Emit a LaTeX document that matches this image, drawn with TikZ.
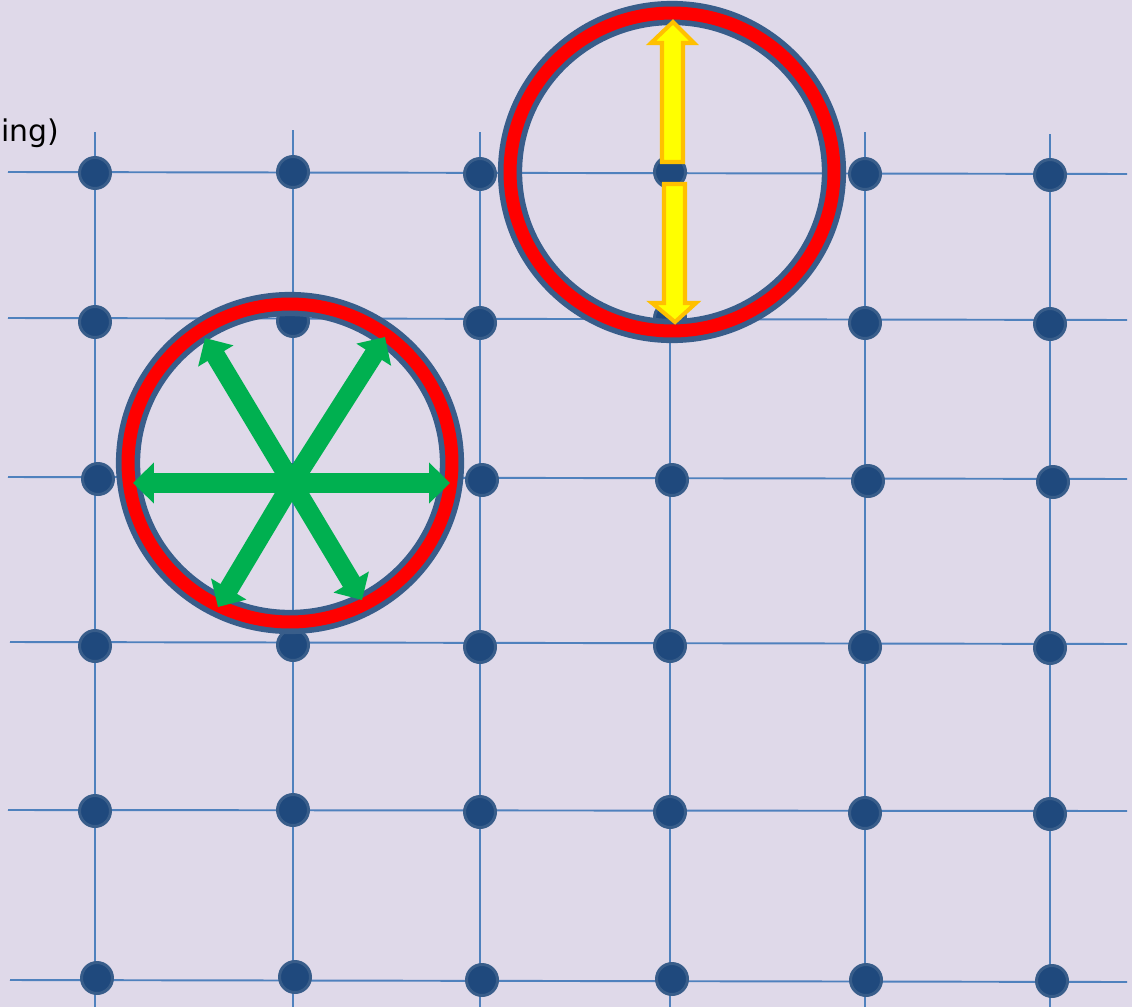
\documentclass[tikz,border=0pt]{standalone}
\usepackage{fontspec}
\setmainfont{DejaVu Sans}
\usetikzlibrary{arrows.meta}
\definecolor{paper}{HTML}{DFD9E9}
\definecolor{gridblue}{HTML}{4F81BD}
\definecolor{dotfill}{HTML}{1F497D}
\definecolor{dotedge}{HTML}{385D8A}
\definecolor{ringred}{HTML}{FF0000}
\definecolor{greenarrow}{HTML}{00B050}
\definecolor{yellowfill}{HTML}{FFFF00}
\definecolor{yellowedge}{HTML}{FFC000}

\begin{document}
\begin{tikzpicture}[x=0.02cm, y=-0.02cm,
  gridline/.style={draw=gridblue, line width=1.1pt},
  site/.style={circle, fill=dotfill, draw=dotedge, line width=1.7pt,
               minimum size=0.62cm, inner sep=0pt},
  ringout/.style={draw=dotedge, line width=13.8pt},
  ringin/.style={draw=ringred, line width=7.4pt},
  burst/.style={draw=greenarrow, line width=11pt,
                -{Triangle[length=0.42cm, width=0.8cm]}},
  jump/.style={fill=yellowfill, draw=yellowedge, line width=2.3pt, line join=miter},
]
  \useasboundingbox (0,0) rectangle (1132,1007);
  \fill[paper] (0,0) rectangle (1132,1007);

  \node[font=\fontsize{17}{21}\selectfont, anchor=base west, inner sep=0pt] (title) at (1,141) {ing)};

  % grid lines
  \coordinate (h1l) at (8,172);   \coordinate (h1r) at (1127,174);
  \coordinate (h2l) at (8,318);   \coordinate (h2r) at (1127,320);
  \coordinate (h3l) at (8,477);   \coordinate (h3r) at (1127,479);
  \coordinate (h4l) at (10,642);  \coordinate (h4r) at (1127,644);
  \coordinate (h5l) at (8,810);   \coordinate (h5r) at (1127,811);
  \coordinate (h6l) at (10,980);  \coordinate (h6r) at (1127,982);
  \coordinate (v1t) at (95,132);   \coordinate (v1b) at (95,1007);
  \coordinate (v2t) at (293,130);  \coordinate (v2b) at (293,1007);
  \coordinate (v3t) at (480,132);  \coordinate (v3b) at (480,1007);
  \coordinate (v4t) at (670,318);  \coordinate (v4b) at (670,1007);
  \coordinate (v5t) at (865,132);  \coordinate (v5b) at (865,1007);
  \coordinate (v6t) at (1050,134); \coordinate (v6b) at (1050,1007);

  \draw[gridline] (h1l) -- (h1r);
  \draw[gridline] (h2l) -- (h2r);
  \draw[gridline] (h3l) -- (h3r);
  \draw[gridline] (h4l) -- (h4r);
  \draw[gridline] (h5l) -- (h5r);
  \draw[gridline] (h6l) -- (h6r);
  \draw[gridline] (v1t) -- (v1b);
  \draw[gridline] (v2t) -- (v2b);
  \draw[gridline] (v3t) -- (v3b);
  \draw[gridline] (v4t) -- (v4b);
  \draw[gridline] (v5t) -- (v5b);
  \draw[gridline] (v6t) -- (v6b);

  % lattice sites
  \node[site] (s11) at (95,173) {};  \node[site] (s12) at (293,172) {};
  \node[site] (s13) at (480,174) {}; \node[site] (s14) at (670,172) {};
  \node[site] (s15) at (865,174) {}; \node[site] (s16) at (1050,175) {};

  \node[site] (s21) at (95,322) {};  \node[site] (s22) at (293,321) {};
  \node[site] (s23) at (480,323) {}; \node[site] (s24) at (670,318) {};
  \node[site] (s25) at (865,323) {}; \node[site] (s26) at (1050,324) {};

  \node[site] (s31) at (98,479) {};  \node[site] (s32) at (293,480) {};
  \node[site] (s33) at (482,480) {}; \node[site] (s34) at (672,480) {};
  \node[site] (s35) at (868,481) {}; \node[site] (s36) at (1053,482) {};

  \node[site] (s41) at (95,646) {};  \node[site] (s42) at (293,645) {};
  \node[site] (s43) at (480,647) {}; \node[site] (s44) at (670,646) {};
  \node[site] (s45) at (865,647) {}; \node[site] (s46) at (1050,648) {};

  \node[site] (s51) at (95,811) {};  \node[site] (s52) at (293,810) {};
  \node[site] (s53) at (480,812) {}; \node[site] (s54) at (670,812) {};
  \node[site] (s55) at (865,813) {}; \node[site] (s56) at (1050,814) {};

  \node[site] (s61) at (97,978) {};  \node[site] (s62) at (295,977) {};
  \node[site] (s63) at (482,980) {}; \node[site] (s64) at (672,979) {};
  \node[site] (s65) at (866,980) {}; \node[site] (s66) at (1052,981) {};

  % rings
  \coordinate (free) at (290,463);
  \coordinate (hop) at (672,172);
  \draw[ringout] (free) ellipse [x radius=3.24cm, y radius=3.18cm];
  \draw[ringin]  (free) ellipse [x radius=3.24cm, y radius=3.18cm];
  \draw[ringout] (hop) ellipse [x radius=3.24cm, y radius=3.18cm];
  \draw[ringin]  (hop) ellipse [x radius=3.24cm, y radius=3.18cm];

  % free diffusion
  \coordinate (mid) at (292,483);
  \coordinate (tipl) at (133,483);
  \coordinate (tipr) at (450,483);
  \coordinate (tipul) at (205,338);
  \coordinate (tipur) at (385,337);
  \coordinate (tipll) at (218,607);
  \coordinate (tiplr) at (362,600);
  \draw[burst] (mid) -- (tipl);
  \draw[burst] (mid) -- (tipr);
  \draw[burst] (mid) -- (tipul);
  \draw[burst] (mid) -- (tipur);
  \draw[burst] (mid) -- (tipll);
  \draw[burst] (mid) -- (tiplr);

  % hopping
  \draw[jump] (662,162) -- (662,43) -- (651,43) -- (673,22) -- (694,43)
    -- (683,43) -- (683,162) -- cycle;
  \draw[jump] (664,184) -- (664,303) -- (652,303) -- (675,322) -- (696,303)
    -- (685,303) -- (685,184) -- cycle;
\end{tikzpicture}
\end{document}
